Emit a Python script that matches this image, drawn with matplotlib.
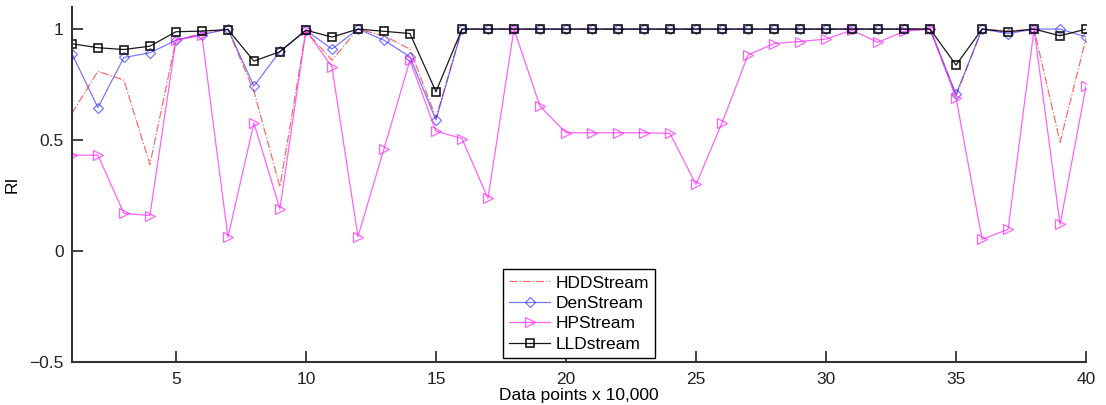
import numpy as np
import matplotlib
matplotlib.use("Agg")
import matplotlib.pyplot as plt

plt.rcParams['font.family'] = ['Liberation Sans', 'DejaVu Sans']

# x positions: data points in units of 10,000
points = list(range(1, 41))

hdd = [0.62, 0.81, 0.77, 0.39, 0.95, 0.98, 1.0, 0.72, 0.29, 0.99,
       0.86, 1.0, 0.97, 0.91, 0.60] + [1.0] * 19 + [0.70, 1.0, 0.99, 1.0, 0.49, 0.96]
den = [0.89, 0.646, 0.872, 0.893, 0.95, 0.975, 1.0, 0.743, 0.90, 0.995,
       0.91, 1.0, 0.95, 0.875, 0.59] + [1.0] * 19 + [0.706, 1.0, 0.98, 1.0, 1.0, 0.965]
hp = [0.432, 0.432, 0.17, 0.16, 0.95, 0.973, 0.062, 0.577, 0.19, 0.995,
      0.83, 0.065, 0.46, 0.86, 0.54, 0.507, 0.237, 1.0, 0.653, 0.533,
      0.533, 0.533, 0.533, 0.53, 0.30, 0.578, 0.883, 0.935, 0.944, 0.955,
      0.995, 0.94, 0.99, 1.0, 0.69, 0.053, 0.098, 1.0, 0.12, 0.745]
lld = [0.934, 0.916, 0.908, 0.923, 0.988, 0.991, 0.998, 0.856, 0.898, 0.995,
       0.964, 1.0, 0.99, 0.98, 0.718] + [1.0] * 19 + [0.838, 1.0, 0.988, 1.0, 0.97, 1.0]

fig = plt.figure(figsize=(11.06, 4.05), dpi=100)
ax = fig.add_axes([0.065, 0.106, 0.917, 0.877])

ax.plot(points, hdd, '-.', color='#ff3b3b', lw=0.9, alpha=0.75, label='HDDStream')
ax.plot(points, den, '-', color='#2020ff', lw=0.9, alpha=0.6, marker='D',
        markersize=5, markerfacecolor='none', markeredgewidth=0.9, label='DenStream')
ax.plot(points, hp, '-', color='#ff22ff', lw=0.9, alpha=0.7, marker='>',
        markersize=7, markerfacecolor='none', markeredgewidth=0.9, label='HPStream')
ax.plot(points, lld, '-', color='black', lw=0.9, alpha=0.9, marker='s',
        markersize=6, markerfacecolor='none', markeredgewidth=1.2, label='LLDstream')

ax.set_xlim(1, 40)
ax.set_ylim(-0.5, 1.1)
ax.set_xticks([5, 10, 15, 20, 25, 30, 35, 40])
ax.set_yticks([-0.5, 0, 0.5, 1])
ax.set_yticklabels(['\u22120.5', '0', '0.5', '1'])
ax.tick_params(direction='in', length=8, width=1.2, labelsize=12.5, colors='#222222')
ax.tick_params(axis='x', pad=7)
ax.tick_params(axis='y', pad=6)

for side in ['top', 'right']:
    ax.spines[side].set_visible(False)
for side in ['left', 'bottom']:
    ax.spines[side].set_linewidth(1.5)
    ax.spines[side].set_color('#333333')

ax.set_xlabel('Data points x 10,000', fontsize=12.5, labelpad=1)
ax.set_ylabel('RI', fontsize=12.5)
ax.yaxis.set_label_coords(-0.052, 0.5)

leg = ax.legend(loc='lower center', bbox_to_anchor=(0.5, 0.0), fontsize=12.5,
                fancybox=False, framealpha=1, edgecolor='black',
                handlelength=2.4, handletextpad=0.3, borderpad=0.35,
                labelspacing=0.3, borderaxespad=0.25)
leg.get_frame().set_linewidth(1.0)

fig.savefig('out.png', dpi=100)
